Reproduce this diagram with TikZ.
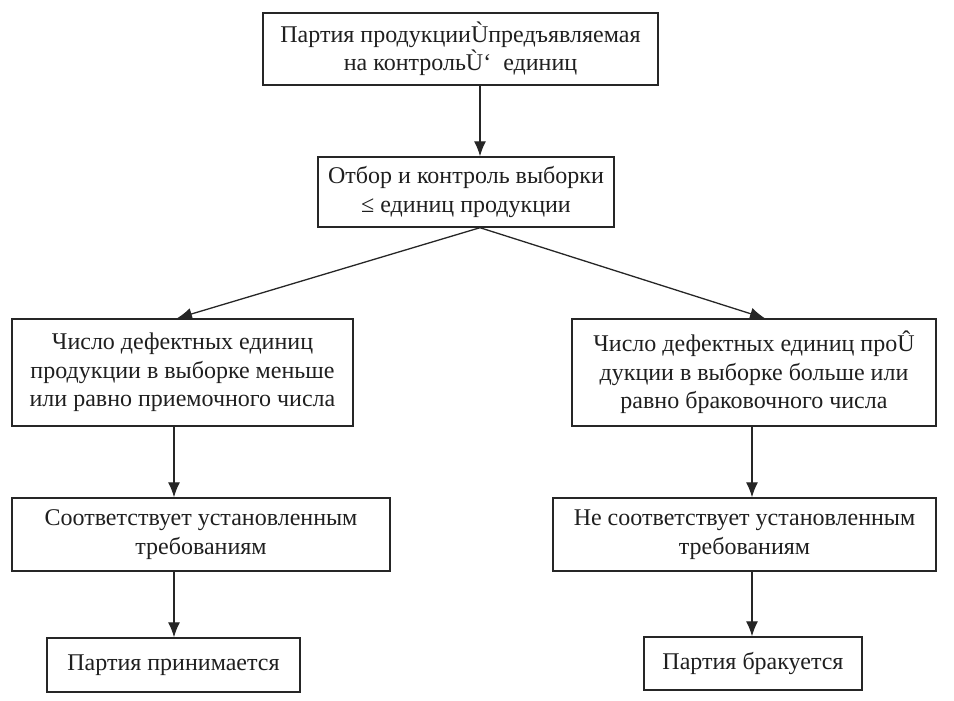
\documentclass[tikz,border=0pt]{standalone}
\usepackage{fontspec}
\setmainfont{Liberation Serif}
\usetikzlibrary{arrows.meta}
\begin{document}
\begin{tikzpicture}[x=1pt,y=-1pt,
  box/.style={draw=black!85,line width=1.4pt,inner sep=0pt,align=center,
    font=\fontsize{24}{28.5}\selectfont,text=black!88},
  arr/.style={line width=1.3pt,draw=black!85,-{Latex[length=15pt,width=12pt]}}]
\useasboundingbox (0,0) rectangle (954,701);
\node[box,minimum width=395pt,minimum height=72pt] (b1) at (460.5,49)
  {Партия продукцииÙпредъявляемая\\на контрольÙ‘~~единиц};
\node[box,minimum width=296pt,minimum height=70pt] (b2) at (466,192)
  {Отбор и контроль выборки\\≤ единиц продукции};
\node[box,minimum width=341pt,minimum height=107pt] (b3l) at (182.5,372.5)
  {Число дефектных единиц\\продукции в выборке меньше\\или равно приемочного числа};
\node[box,minimum width=364pt,minimum height=107pt] (b3r) at (754,372.5)
  {Число дефектных единиц проÛ\\дукции в выборке больше или\\равно браковочного числа};
\node[box,minimum width=378pt,minimum height=73pt] (b4l) at (201,534.5)
  {Соответствует установленным\\требованиям};
\node[box,minimum width=383pt,minimum height=73pt] (b4r) at (744.5,534.5)
  {Не соответствует установленным\\требованиям};
\node[box,minimum width=253pt,minimum height=54pt] (b5l) at (173.5,665)
  {Партия принимается};
\node[box,minimum width=218pt,minimum height=53pt] (b5r) at (753,663.5)
  {Партия бракуется};
\coordinate (xa) at (480,0);
\coordinate (xl) at (174,0);
\coordinate (xr) at (752,0);
\coordinate (tl) at (177,0);
\coordinate (tr) at (765,0);
\draw[arr] (b1.south -| xa) -- (b2.north -| xa);
\draw[arr] (b2.south -| xa) -- (b3l.north -| tl);
\draw[arr] (b2.south -| xa) -- (b3r.north -| tr);
\draw[arr] (b3l.south -| xl) -- (b4l.north -| xl);
\draw[arr] (b4l.south -| xl) -- (b5l.north -| xl);
\draw[arr] (b3r.south -| xr) -- (b4r.north -| xr);
\draw[arr] (b4r.south -| xr) -- (b5r.north -| xr);
\end{tikzpicture}
\end{document}
